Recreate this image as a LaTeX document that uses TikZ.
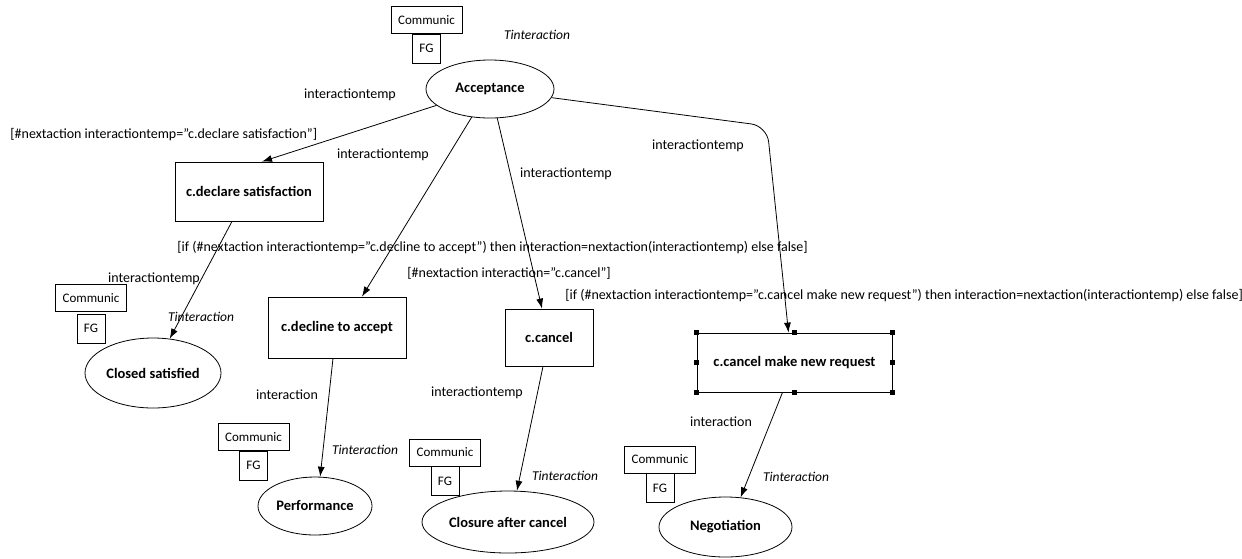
\documentclass[tikz,border=0pt]{standalone}
\usepackage{fontspec}
\setmainfont{Carlito}[Ligatures=ResetAll]
\usetikzlibrary{positioning,shapes.geometric,arrows.meta}
\tikzset{
  px/.style={x=1pt,y=-1pt,line width=.8pt,font=\fontsize{14}{16}\selectfont},
  st/.style={draw,ellipse,inner sep=0pt,font=\fontsize{14.5}{16}\selectfont\bfseries},
  act/.style={draw,rectangle,inner sep=0pt,font=\fontsize{14.5}{16}\selectfont\bfseries},
  comm/.style={draw,inner sep=0pt,minimum width=71pt,minimum height=27pt,font=\fontsize{13}{15}\selectfont},
  fg/.style={draw,inner sep=0pt,minimum width=28pt,minimum height=29pt,font=\fontsize{13}{15}\selectfont},
  lbl/.style={inner sep=0pt},
  ty/.style={inner sep=0pt,font=\fontsize{13.5}{15}\selectfont\itshape},
  tr/.style={-{Latex[length=10pt,width=7pt]}},
}

\begin{document}
\begin{tikzpicture}[px]
  \useasboundingbox (0,0) rectangle (1242,558);
  % states
  \node[st,minimum width=128pt,minimum height=58pt] (acc) at (490,89) {Acceptance};
  \node[st,minimum width=136pt,minimum height=70pt] (closed) at (153,373) {Closed satisfied};
  \node[st,minimum width=114pt,minimum height=58pt] (perf) at (315,506) {Performance};
  \node[st,minimum width=172pt,minimum height=62pt] (closure) at (508,522) {Closure after cancel};
  \node[st,minimum width=133pt,minimum height=60pt] (nego) at (725.5,527) {Negotiation};
  % actions
  \node[act,minimum width=148pt,minimum height=59pt] (decl) at (249,191.5) {c.declare satisfaction};
  \node[act,minimum width=138pt,minimum height=61pt] (decline) at (337,327.5) {c.decline to accept};
  \node[act,minimum width=88pt,minimum height=57pt] (cancel) at (549,337.5) {c.cancel};
  \node[act,minimum width=195pt,minimum height=59pt] (newreq) at (794.5,362.5) {c.cancel make new request};
  \foreach \a in {north west,north,north east,west,east,south west,south,south east}
    {\fill ([shift={(-2.5pt,-2.5pt)}]newreq.\a) rectangle ++(5pt,5pt);}
  % Communic / FG tags
  \node[comm] (cmAcc) at (426.5,20) {Communic};
  \node[fg,below=0pt of cmAcc] (fgAcc) {FG};
  \node[comm] (cmClosed) at (91,298) {Communic};
  \node[fg,below=2pt of cmClosed] (fgClosed) {FG};
  \node[comm] (cmPerf) at (253.5,437) {Communic};
  \node[fg,below=0pt of cmPerf] (fgPerf) {FG};
  \node[comm] (cmClosure) at (445,452.5) {Communic};
  \node[fg,below=0pt of cmClosure] (fgClosure) {FG};
  \node[comm] (cmNego) at (660,459.5) {Communic};
  \node[fg,below=0pt of cmNego] (fgNego) {FG};
  % types
  \node[ty] (tyAcc) at (537,35) {Tinteraction};
  \node[ty] (tyClosed) at (201,317) {Tinteraction};
  \node[ty] (tyPerf) at (365,450) {Tinteraction};
  \node[ty] (tyClosure) at (565,476) {Tinteraction};
  \node[ty] (tyNego) at (796,477) {Tinteraction};
  % transitions
  \draw[tr] (acc.197) -- ([xshift=13pt]decl.north);
  \draw[tr] (acc.237) -- ([xshift=25pt]decline.north);
  \draw[tr] (acc.284) -- ([xshift=-7pt]cancel.north);
  \coordinate (bend) at (767,126);
  \draw[tr,rounded corners=16pt] (acc.352) -- (bend) -- ([xshift=-6pt]newreq.north);
  \draw[tr] ([xshift=-17pt]decl.south) -- (closed.64);
  \draw[tr] ([xshift=-4pt]decline.south) -- (perf.80);
  \draw[tr] ([xshift=-6pt]cancel.south) -- (closure.74);
  \draw[tr] ([xshift=-12pt]newreq.south) -- (nego.63);
  % edge labels
  \node[lbl] (l1) at (350,95) {interactiontemp};
  \node[lbl,anchor=west] (g1) at (10,135) {[\#nextaction interactiontemp="c.declare satisfaction"]};
  \node[lbl] (l2) at (383,155) {interactiontemp};
  \node[lbl] (l3) at (566,174) {interactiontemp};
  \node[lbl] (l4) at (698,146) {interactiontemp};
  \node[lbl,anchor=west] (g2) at (177,247) {[if (\#nextaction interactiontemp="c.decline to accept") then interaction=nextaction(interactiontemp) else false]};
  \node[lbl,anchor=west] (g3) at (407,273) {[\#nextaction interaction="c.cancel"]};
  \node[lbl,anchor=west] (g4) at (565,295) {[if (\#nextaction interactiontemp="c.cancel make new request") then interaction=nextaction(interactiontemp) else false]};
  \node[lbl] (l5) at (154,279) {interactiontemp};
  \node[lbl] (l6) at (287,395) {interaction};
  \node[lbl] (l7) at (477,393) {interactiontemp};
  \node[lbl] (l8) at (721,422) {interaction};
\end{tikzpicture}
\end{document}
